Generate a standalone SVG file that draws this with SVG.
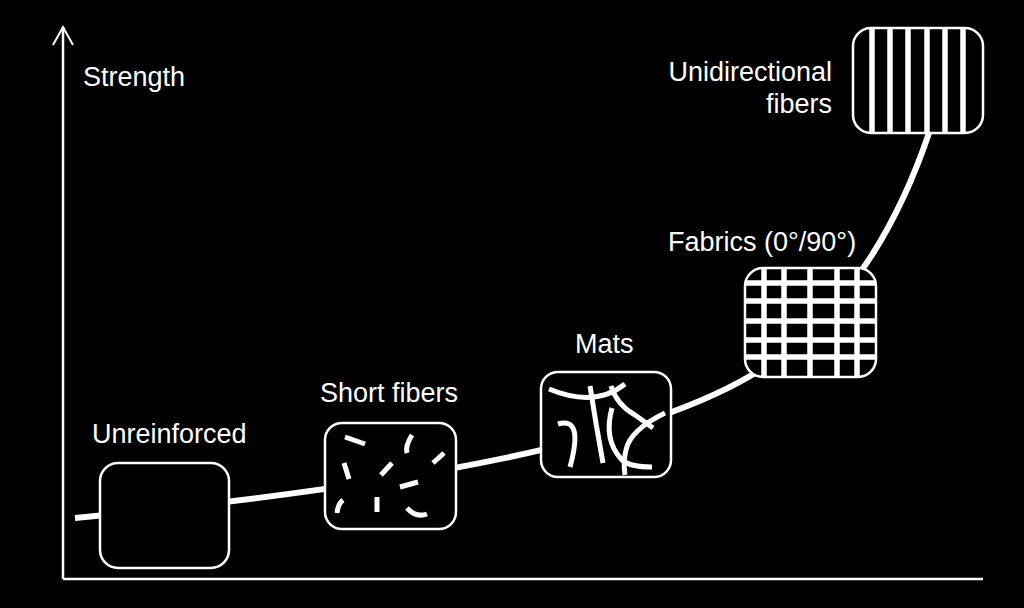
<svg xmlns="http://www.w3.org/2000/svg" width="1024" height="608" viewBox="0 0 1024 608">
<style>
text{font-family:"Liberation Sans",Arial,sans-serif;font-size:27px;fill:#fff}
.box{fill:#000;stroke:#fff;stroke-width:2.5}
.frame{fill:none;stroke:#fff;stroke-width:2.5}
.fib{fill:none;stroke:#fff;stroke-width:5;stroke-linecap:butt}
.mat{fill:none;stroke:#fff;stroke-width:5;stroke-linecap:butt}
.bar{fill:none;stroke:#fff;stroke-width:5.5}
</style>
<defs>
<clipPath id="cf"><rect x="745" y="268" width="131" height="109" rx="18"/></clipPath>
<clipPath id="cu"><rect x="853" y="28" width="130" height="105" rx="18"/></clipPath>
</defs>
<rect width="1024" height="608" fill="#000"/>
<g id="axes" fill="none" stroke="#fff" stroke-width="2.5">
<path d="M63,579 V27"/>
<path d="M53,45 L63,27 L73,45" stroke-width="2"/>
<path d="M63,579 H983"/>
</g>
<g id="connectors">
<path d="M75,518 C420,485 650,440 760,370 C830,325 890,250 930,130" fill="none" stroke="#fff" stroke-width="6"/>
</g>
<g id="unreinforced">
<rect class="box" x="100" y="463" width="129" height="105" rx="18"/>
<text x="92" y="443">Unreinforced</text>
</g>
<g id="short-fibers">
<rect class="box" x="325" y="423" width="131" height="106" rx="17"/>
<path class="fib" d="M345,437 L365,444"/>
<path class="fib" d="M412,435 Q405,446 407,453"/>
<path class="fib" d="M444,453 L433,463"/>
<path class="fib" d="M344,463 L349,479"/>
<path class="fib" d="M392,463 L381,475"/>
<path class="fib" d="M400,487 L418,482"/>
<path class="fib" d="M343,500 Q338,504 337,513"/>
<path class="fib" d="M377,497 L377,512"/>
<path class="fib" d="M407,508 Q416,518 427,514"/>
<text x="320" y="402">Short fibers</text>
</g>
<g id="mats">
<rect class="box" x="541" y="372" width="130" height="105" rx="17"/>
<path class="mat" d="M549,389 Q595,408 625,384"/>
<path class="mat" d="M590,386 Q596,425 603,463"/>
<path class="mat" d="M558,424 Q584,416 570,467"/>
<path class="mat" d="M611,386 Q617,405 635,415 Q645,422 653,428"/>
<path class="mat" d="M665,413 Q630,430 626,450 Q623,462 625,475"/>
<path class="mat" d="M612,408 Q603,440 622,460 Q630,467 652,467"/>
<text x="575" y="353">Mats</text>
</g>
<g id="fabrics">
<rect x="745" y="268" width="131" height="109" rx="18" fill="#000"/>
<g clip-path="url(#cf)" class="bar">
<path d="M764,268 V377 M784,268 V377 M810,268 V377 M837,268 V377 M857,268 V377"/>
<path d="M745,283 H876 M745,301 H876 M745,321 H876 M745,340 H876 M745,357 H876"/>
</g>
<rect class="frame" x="745" y="268" width="131" height="109" rx="18"/>
<text x="668" y="251">Fabrics (0°/90°)</text>
</g>
<g id="unidirectional">
<rect x="853" y="28" width="130" height="105" rx="18" fill="#000"/>
<g clip-path="url(#cu)" class="bar">
<path d="M872,28 V133 M890,28 V133 M908,28 V133 M927,28 V133 M945,28 V133 M963,28 V133"/>
</g>
<rect class="frame" x="853" y="28" width="130" height="105" rx="18"/>
<text x="832" y="81" text-anchor="end">Unidirectional</text>
<text x="832" y="113" text-anchor="end">fibers</text>
</g>
<g id="axis-label">
<text x="83" y="86">Strength</text>
</g>
</svg>
